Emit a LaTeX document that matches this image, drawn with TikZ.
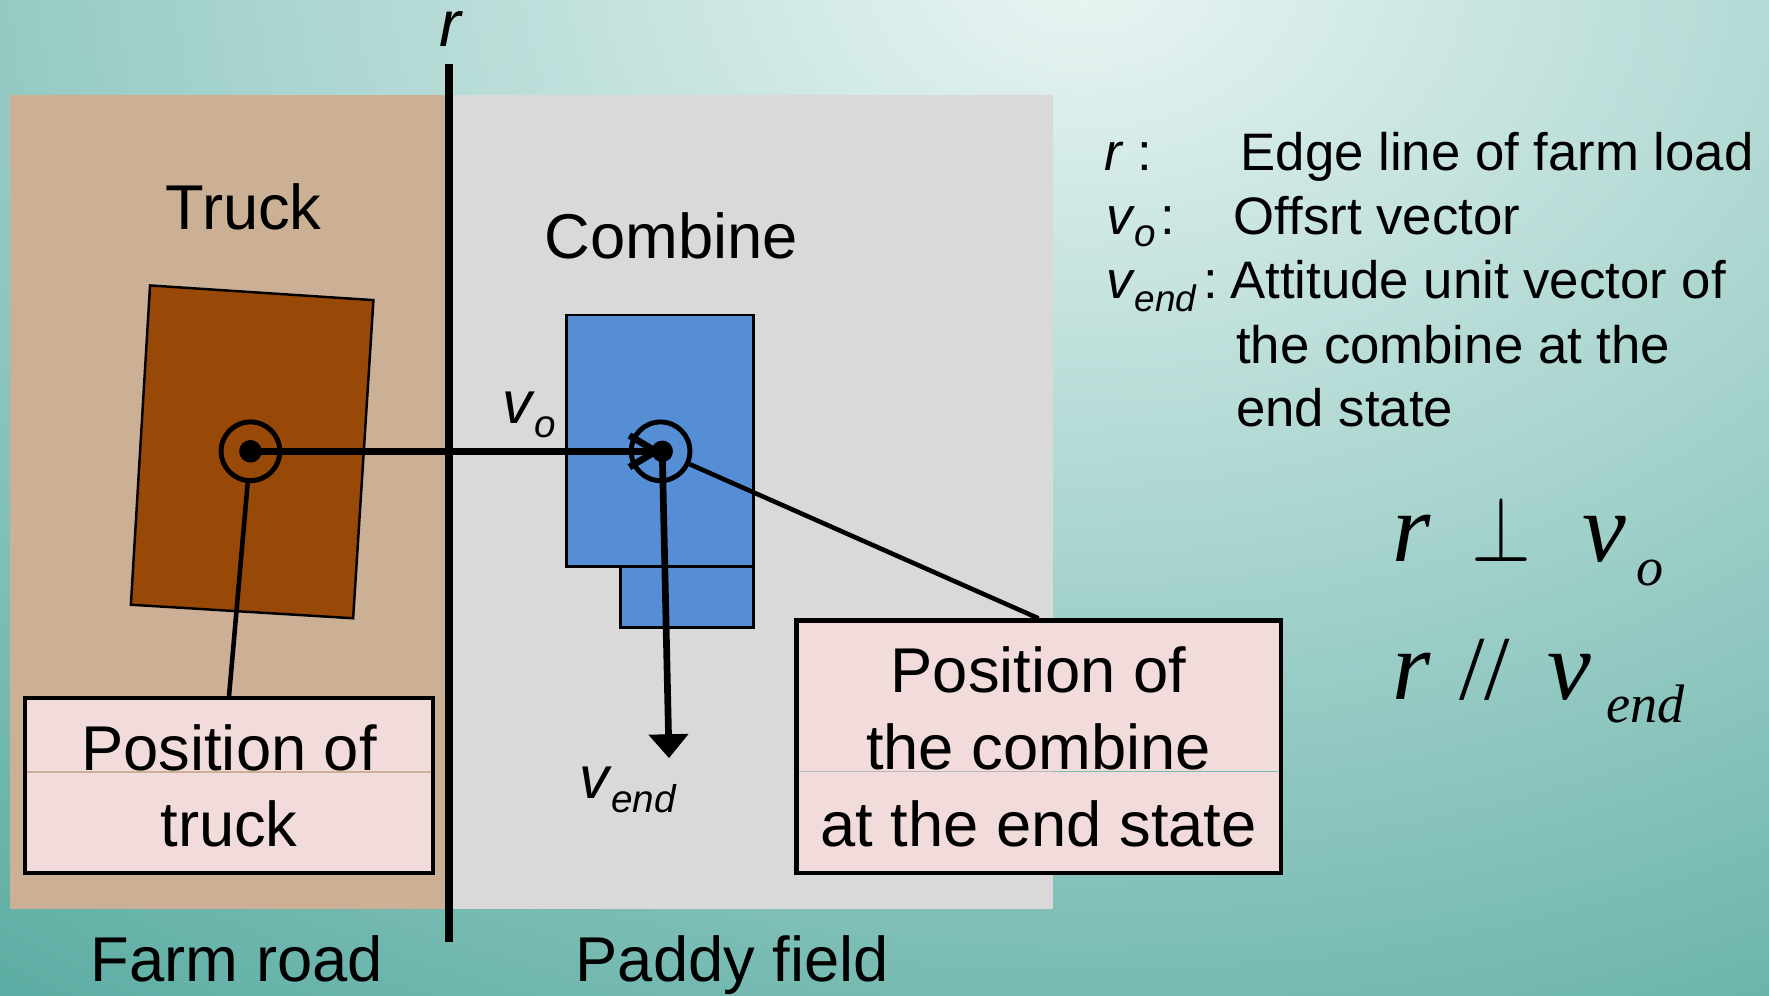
\documentclass[tikz,border=0pt]{standalone}
\usepackage{fontspec}
\setmainfont{Liberation Sans}
\newfontfamily\tnr{Liberation Serif}
\usetikzlibrary{arrows.meta}
\definecolor{bgteal}{HTML}{58ABA1}
\definecolor{bglight}{HTML}{E9F5F3}
\definecolor{roadtan}{HTML}{CBB095}
\definecolor{fieldgrey}{HTML}{D9D9D9}
\definecolor{truckbrown}{HTML}{984807}
\definecolor{combineblue}{HTML}{558ED5}
\definecolor{boxpink}{HTML}{F2DCDB}
\newcommand\vsubx[3]{{\itshape v}\kern0.5pt\raisebox{#3}{\fontsize{#1}{#1}\selectfont\itshape #2}}
\tikzset{
  bigtext/.style={font=\fontsize{18}{21.8}\selectfont, inner sep=0pt},
  legtext/.style={font=\fontsize{15}{18}\selectfont, inner sep=0pt, anchor=base west},
  formtext/.style={font=\tnr\itshape\fontsize{28}{30}\selectfont, inner sep=0pt, anchor=base west},
  labelbox/.style={draw=black, line width=1.2pt, fill=boxpink, inner sep=0pt, align=center, font=\fontsize{18}{21.8}\selectfont},
  vecline/.style={line width=1.9pt},
  leader/.style={line width=1.3pt},
  marker/.style={circle, draw=black, line width=1.4pt, minimum size=16.7pt, inner sep=0pt},
  shapeline/.style={draw=black, line width=0.7pt},
}
\begin{document}
\begin{tikzpicture}[x=0.011282cm, y=-0.011282cm]
\useasboundingbox (0,0) rectangle (1568,882);
% background
\fill[bgteal] (0,0) rectangle (1568,882);
\begin{scope}
  \clip (0,0) rectangle (1568,882);
  \shade[inner color=bglight, outer color=bgteal] (960,-20) ellipse [x radius=1650, y radius=1150];
\end{scope}
% areas
\fill[roadtan] (9,84) rectangle (398,806);
\fill[fieldgrey] (398,84) rectangle (933,806);
% truck
\filldraw[fill=truckbrown, shapeline] (133,253) -- (331,266) -- (313,548) -- (116,536) -- cycle;
% combine
\filldraw[fill=combineblue, shapeline] (550,502) rectangle (668,556);
\filldraw[fill=combineblue, shapeline] (502,279) rectangle (668,502);
% titles
\node[bigtext, anchor=base] (trucklbl) at (216,203) {Truck};
\node[bigtext, anchor=base] (combinelbl) at (595,229) {Combine};
\node[bigtext, anchor=base] (roadlbl) at (210,870) {Farm road};
\node[bigtext, anchor=base] (fieldlbl) at (649,870) {Paddy field};
\node[font=\fontsize{18.5}{18.5}\selectfont\itshape, inner sep=0pt, text height=10pt, text depth=0pt, anchor=base] (rlbl) at (399,41) {r};
% key points
\coordinate (tc) at (222,400);
\coordinate (cc) at (587,400);
\coordinate (vend) at (593,672);
\coordinate (rtop) at (398,57);
\coordinate (rbot) at (398,835);
% edge line r
\draw[line width=2.2pt] (rtop) -- (rbot);
% boxes
\node[labelbox, minimum width=116.2pt, minimum height=49.8pt] (lbox) at (203,696.5) {Position of\\truck};
\node[labelbox, minimum width=137.7pt, minimum height=71.9pt] (rbox) at (920.5,662) {Position of\\the combine\\at the end state};
\draw[roadtan, line width=0.5pt] (24,684) -- (382,684);
\draw[fieldgrey!85!black, line width=0.4pt] (708,684) -- (933,684);
\draw[bgteal!80!white, line width=0.4pt] (933,684) -- (1133,684);
% markers
\node[marker] (tmark) at (tc) {};
\node[marker] (cmark) at (585.5,400) {};
\fill (tc) circle (10);
\fill (cc) circle (9.5);
% leaders
\draw[leader] (tmark) -- (lbox.north);
\draw[leader] (cmark) -- (rbox.north);
% vectors
\draw[vecline, -{Straight Barb[length=7.5pt, width=9pt]}] (tc) -- (cc);
\draw[vecline, -{Triangle[length=6.8pt, width=11pt]}] (cc) -- (vend);
\node[inner sep=0pt, anchor=base west, font=\fontsize{17}{17}\selectfont] (volbl) at (445,375) {\vsubx{11}{o}{-4pt}};
\node[inner sep=0pt, anchor=base west, font=\fontsize{17}{17}\selectfont] (vendlbl) at (513,708) {\vsubx{11}{end}{-4pt}};
% legend
\node[legtext, font=\fontsize{15}{18}\selectfont\itshape] (lr) at (978,151) {r};
\node[legtext] (lrc) at (1008,151) {:};
\node[legtext] (l1) at (1099,151) {Edge line of farm load};
\node[legtext] (lvo) at (980,208) {\vsubx{11}{o}{-3.5pt}};
\node[legtext] (lvoc) at (1028,208) {:};
\node[legtext] (l2) at (1093,208) {Offsrt vector};
\node[legtext] (lve) at (980,265) {\vsubx{10.5}{end}{-3.5pt}};
\node[legtext] (lvec) at (1066,265) {:};
\node[legtext] (l3) at (1090,265) {Attitude unit vector of};
\node[legtext] (l4) at (1095,322) {the combine at the};
\node[legtext] (l5) at (1095,378) {end state};
% formulas
\node[formtext] (f1r) at (1234,498) {r};
\node[formtext] (f1perp) at (1304,498) {\resizebox{17pt}{18.5pt}{\fontsize{10}{10}\selectfont$\perp$}};
\node[formtext] (f1v) at (1402,498) {v};
\node[formtext, font=\tnr\itshape\fontsize{15.4}{15.4}\selectfont] (f1o) at (1450,519) {o};
\node[formtext] (f2r) at (1234,620) {r};
\node[formtext, font=\tnr\fontsize{26}{26}\selectfont] (f2par) at (1293,620) {//};
\node[formtext] (f2v) at (1371,620) {v};
\node[formtext, font=\tnr\itshape\fontsize{15.4}{15.4}\selectfont] (f2end) at (1423,640) {end};
\end{tikzpicture}
\end{document}
